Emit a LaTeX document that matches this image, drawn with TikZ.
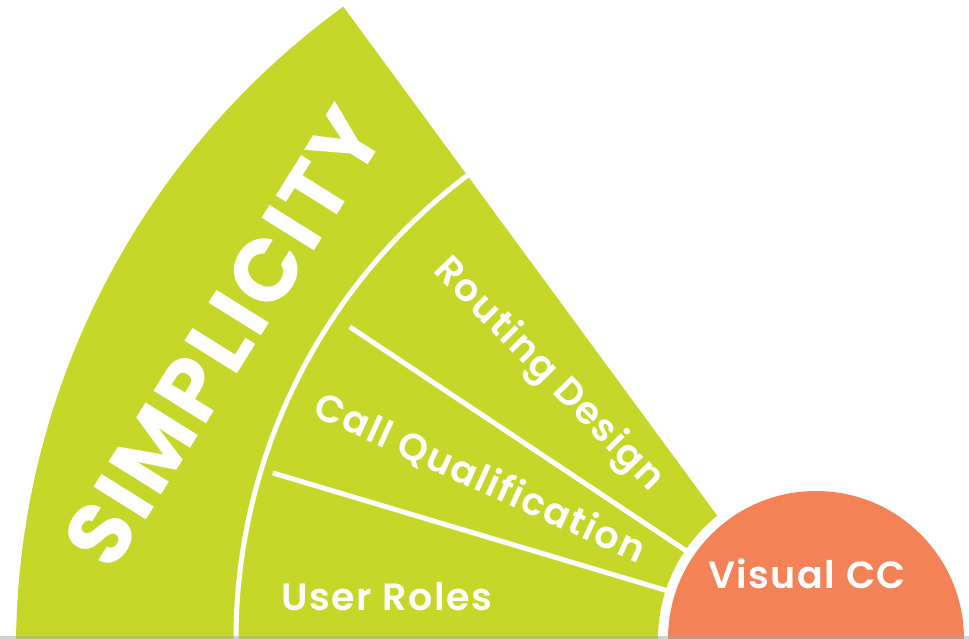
\documentclass[tikz,border=0pt]{standalone}
\usepackage{fontspec}
\usetikzlibrary{calc}
\setmainfont{Poppins}
\IfFontExistsTF{Poppins SemiBold}{\newfontfamily\labelfont{Poppins SemiBold}[LetterSpace=4]}{\newfontfamily\labelfont{Poppins}[FakeBold=1,LetterSpace=4]}
\IfFontExistsTF{Poppins Bold}{\newfontfamily\titlefont{Poppins Bold}[LetterSpace=4]}{\newfontfamily\titlefont{Poppins}[FakeBold=2,LetterSpace=4]}
\definecolor{lime}{RGB}{198,215,42}
\definecolor{coral}{RGB}{243,130,86}
\begin{document}
\begin{tikzpicture}[x=1pt,y=1pt,
  sector/.style={fill=lime, draw=none},
  hub/.style={fill=coral, draw=none},
  divider/.style={draw=white, line width=5pt},
  lbl/.style={text=white, inner sep=0pt, font=\labelfont\fontsize{38}{38}\selectfont},
  title/.style={text=white, inner sep=0pt, font=\titlefont\fontsize{88}{88}\selectfont}]
\useasboundingbox (0,0) rectangle (969,639);
\clip (0,0) rectangle (969,639);
\coordinate (C) at (816,0);
\coordinate (O) at (810,-10);
\coordinate (apex) at ($(O)+(126:794)$);
% green sector
\path[sector] (658,-30) -- ($(C)+(180:158)$) arc[start angle=180, end angle=128.7, radius=158]
  -- (apex) arc[start angle=126, end angle=182, radius=794] -- cycle;
% orange hub
\path[hub] (C) circle[radius=148];
% dividers
\draw[divider] ($(C)+(125:580)$) arc[start angle=125, end angle=182, radius=580];
\draw[divider] ($(C)+(146.2:561)$) -- ($(C)+(145.8:152)$);
\draw[divider] ($(C)+(163:568)$) -- ($(C)+(162:152)$);
% labels
\node[title, rotate=58] (simp) at (224,302) {SIMPLICITY};
\node[lbl, rotate=-45.5, anchor=mid] (route) at (543,259) {Routing Design};
\node[lbl, rotate=-24.5, anchor=mid] (callq) at (476,152) {Call Qualification};
\node[lbl, anchor=base] (roles) at (387,28) {User Roles};
\node[lbl, anchor=base] (vcc) at (807,50) {Visual CC};
% scan edge
\fill[gray!70, opacity=0.5] (0,0) rectangle (969,3);
\end{tikzpicture}
\end{document}
